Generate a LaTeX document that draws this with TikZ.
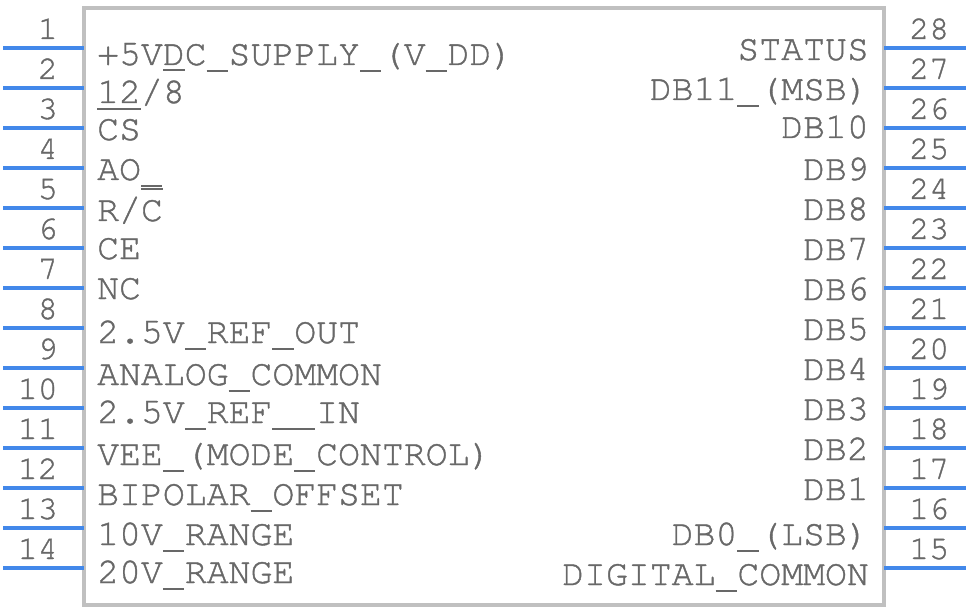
\documentclass[tikz,border=0pt]{standalone}
\usepackage{fontspec}
\setmonofont{TeX Gyre Cursor}[FakeBold=1.1]
\definecolor{pinblue}{RGB}{66,136,234}
\definecolor{boxgray}{RGB}{192,192,192}
\definecolor{txtgray}{RGB}{104,104,104}
\newcommand{\usc}{\makebox[0.6em][l]{\rule[-0.2em]{0.58em}{0.05em}}}
\begin{document}
\begin{tikzpicture}[x=1pt,y=-1pt,
  pinline/.style={draw=pinblue,line width=4pt},
  body/.style={draw=boxgray,line width=4pt},
  lbl/.style={font=\ttfamily\fontsize{36.5}{40}\selectfont,text=txtgray,inner sep=0pt},
  labl/.style={lbl,anchor=base west},
  labr/.style={lbl,anchor=base east},
  num/.style={font=\ttfamily\fontsize{33.3}{36}\selectfont,text=txtgray,inner sep=0pt},
  numl/.style={num,anchor=base east},
  numr/.style={num,anchor=base west},
  ovl/.style={draw=txtgray,line width=1.9pt}]
\useasboundingbox (0,0) rectangle (968,612);
% body
\coordinate (bodyTL) at (84,8);
\coordinate (bodyBR) at (884,605);
\draw[body] (bodyTL) rectangle (bodyBR);
% left pins
\foreach \i in {1,...,14}{
  \pgfmathsetmacro{\py}{8+40*\i}
  \coordinate (pl\i a) at (3,\py);
  \coordinate (pl\i b) at (84,\py);
  \draw[pinline] (pl\i a) -- (pl\i b);
  \node[numl] (nl\i) at (58,\py-9) {\i};
}
% right pins
\foreach \i in {1,...,14}{
  \pgfmathsetmacro{\py}{8+40*\i}
  \pgfmathtruncatemacro{\pn}{29-\i}
  \coordinate (pr\i a) at (884,\py);
  \coordinate (pr\i b) at (966,\py);
  \draw[pinline] (pr\i a) -- (pr\i b);
  \node[numr] (nr\i) at (909,\py-9) {\pn};
}
% left labels
\node[labl] (l1) at (97,65) {+5VDC\usc SUPPLY\usc(V\usc DD)};
\node[labl] (l2) at (97,103) {12/8};
\node[labl] (l3) at (97,140) {CS};
\node[labl] (l4) at (97,180) {AO\usc};
\node[labl] (l5) at (97,221) {R/C};
\node[labl] (l6) at (97,259) {CE};
\node[labl] (l7) at (97,299) {NC};
\node[labl] (l8) at (97,343) {2.5V\usc REF\usc OUT};
\node[labl] (l9) at (97,385) {ANALOG\usc COMMON};
\node[labl] (l10) at (97,423) {2.5V\usc REF\usc\usc IN};
\node[labl] (l11) at (97,465) {VEE\usc(MODE\usc CONTROL)};
\node[labl] (l12) at (97,505) {BIPOLAR\usc OFFSET};
\node[labl] (l13) at (97,545) {10V\usc RANGE};
\node[labl] (l14) at (97,583) {20V\usc RANGE};
% overlines
\draw[ovl] ([shift={(66,-33)}]l2.base west) -- ++(22,0);
\draw[ovl] ([shift={(0,-31)}]l3.base west) -- ++(44,0);
\draw[ovl] ([shift={(44,-32)}]l5.base west) -- ++(22,0);
% right labels
\node[labr] (r28) at (869,60) {STATUS};
\node[labr] (r27) at (869,100) {DB11\usc(MSB)};
\node[labr] (r26) at (869,138) {DB10};
\node[labr] (r25) at (869,180) {DB9};
\node[labr] (r24) at (869,220) {DB8};
\node[labr] (r23) at (869,260) {DB7};
\node[labr] (r22) at (869,300) {DB6};
\node[labr] (r21) at (869,340) {DB5};
\node[labr] (r20) at (869,380) {DB4};
\node[labr] (r19) at (869,420) {DB3};
\node[labr] (r18) at (869,460) {DB2};
\node[labr] (r17) at (869,500) {DB1};
\node[labr] (r16) at (869,545) {DB0\usc(LSB)};
\node[labr] (r15) at (869,585) {DIGITAL\usc COMMON};
\end{tikzpicture}
\end{document}
